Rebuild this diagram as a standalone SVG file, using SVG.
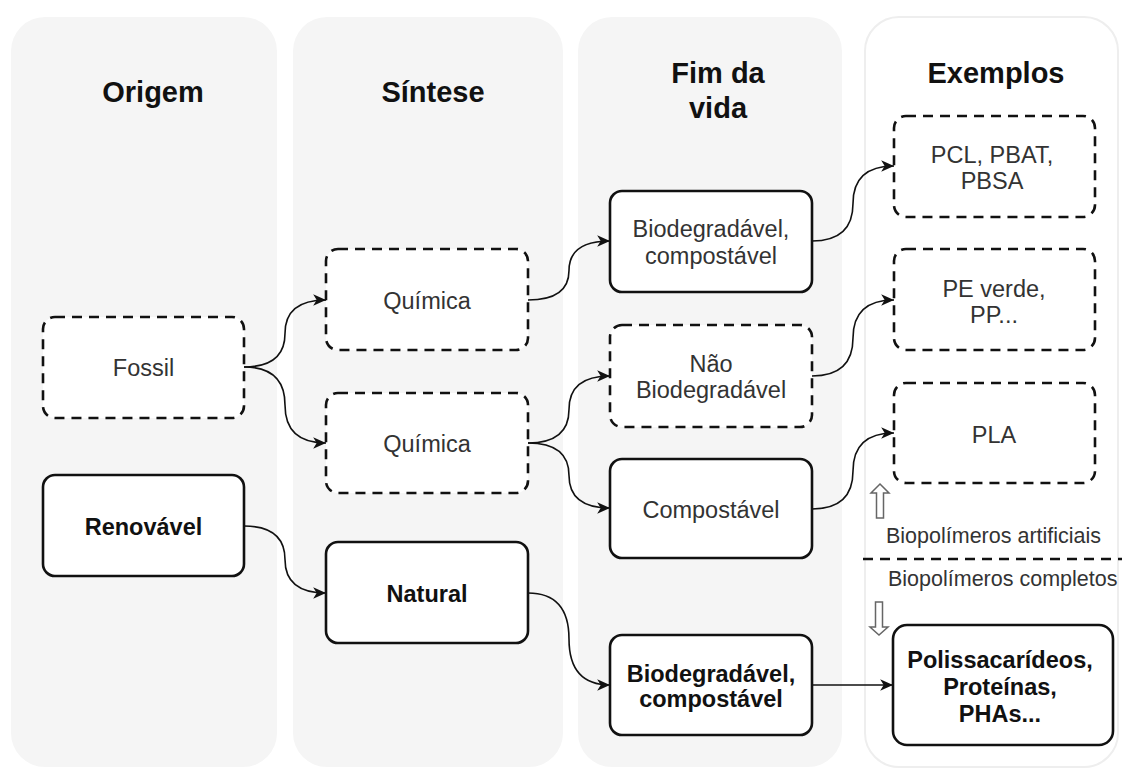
<svg xmlns="http://www.w3.org/2000/svg" width="1122" height="769" viewBox="0 0 1122 769">
<defs>
<style>
.panel{fill:#f5f5f5;stroke:none}
.panelw{fill:#ffffff;stroke:#eeeeee;stroke-width:2}
.box{fill:#ffffff;stroke:#111;stroke-width:2.6}
.dash{stroke-dasharray:10 7}
.hdr{font-family:"Liberation Sans",Arial,sans-serif;font-weight:bold;font-size:29px;fill:#111;text-anchor:middle}
.t{font-family:"Liberation Sans",Arial,sans-serif;font-size:23.5px;fill:#333;text-anchor:middle}
.b{font-family:"Liberation Sans",Arial,sans-serif;font-size:23.5px;font-weight:bold;fill:#111;text-anchor:middle}
.s{font-family:"Liberation Sans",Arial,sans-serif;font-size:21.5px;fill:#333}
.edge{fill:none;stroke:#111;stroke-width:1.6}
.hollow{fill:#fff;stroke:#666;stroke-width:1.5}
</style>
<marker id="arr" markerUnits="userSpaceOnUse" markerWidth="14" markerHeight="12" refX="11" refY="5" orient="auto" viewBox="0 0 12 10">
<path d="M0,0 L11,5 L0,10 L3,5 Z" fill="#111"/>
</marker>
</defs>
<rect width="1122" height="769" fill="#ffffff"/>

<g id="panels">
<rect class="panel" x="11" y="17" width="266" height="750" rx="34"/>
<rect class="panel" x="293" y="17" width="270" height="750" rx="34"/>
<rect class="panel" x="578" y="17" width="264" height="750" rx="34"/>
<rect class="panelw" x="865" y="17" width="253" height="750" rx="34"/>
</g>

<g id="headers">
<text class="hdr" x="153" y="102">Origem</text>
<text class="hdr" x="433" y="102">Síntese</text>
<text class="hdr" x="718" y="83">Fim da</text>
<text class="hdr" x="718" y="118">vida</text>
<text class="hdr" x="996" y="83">Exemplos</text>
</g>

<g id="connectors">
<path class="edge" marker-end="url(#arr)" d="M244,367 Q285,367 285,333.5 T326,300"/>
<path class="edge" marker-end="url(#arr)" d="M244,367 Q285,367 285,405 T326,443"/>
<path class="edge" marker-end="url(#arr)" d="M244,526 Q285,526 285,559.5 T326,593"/>
<path class="edge" marker-end="url(#arr)" d="M528,300 Q569,300 569,270.5 T610,241"/>
<path class="edge" marker-end="url(#arr)" d="M528,443 Q569,443 569,409.5 T610,376"/>
<path class="edge" marker-end="url(#arr)" d="M528,443 Q569,443 569,475.5 T610,508"/>
<path class="edge" marker-end="url(#arr)" d="M528,593 Q569,593 569,639 T610,685"/>
<path class="edge" marker-end="url(#arr)" d="M812,241 Q853,241 853,203.5 T894,166"/>
<path class="edge" marker-end="url(#arr)" d="M812,376 Q853,376 853,338 T894,300"/>
<path class="edge" marker-end="url(#arr)" d="M812,509 Q853,509 853,471 T894,433"/>
<path class="edge" marker-end="url(#arr)" d="M812,685 L893,685"/>
</g>

<g id="fossil">
<rect class="box dash" x="43" y="317" width="201" height="101" rx="12"/>
<text class="t" x="143.5" y="376">Fossil</text>
</g>
<g id="renovavel">
<rect class="box" x="43" y="475" width="201" height="101" rx="12"/>
<text class="b" x="143.5" y="535">Renovável</text>
</g>
<g id="quimica1">
<rect class="box dash" x="326" y="249" width="202" height="101" rx="12"/>
<text class="t" x="427" y="309">Química</text>
</g>
<g id="quimica2">
<rect class="box dash" x="326" y="393" width="202" height="100" rx="12"/>
<text class="t" x="427" y="452">Química</text>
</g>
<g id="natural">
<rect class="box" x="326" y="542" width="202" height="101" rx="12"/>
<text class="b" x="427" y="602">Natural</text>
</g>
<g id="biocomp1">
<rect class="box" x="610" y="191" width="202" height="101" rx="12"/>
<text class="t" x="711" y="237">Biodegradável,</text>
<text class="t" x="711" y="264">compostável</text>
</g>
<g id="naobio">
<rect class="box dash" x="610" y="325" width="202" height="102" rx="12"/>
<text class="t" x="711" y="372">Não</text>
<text class="t" x="711" y="398">Biodegradável</text>
</g>
<g id="compostavel">
<rect class="box" x="610" y="459" width="202" height="99" rx="12"/>
<text class="t" x="711" y="518">Compostável</text>
</g>
<g id="biocomp2">
<rect class="box" x="610" y="635" width="202" height="100" rx="12"/>
<text class="b" x="711" y="682">Biodegradável,</text>
<text class="b" x="711" y="707">compostável</text>
</g>
<g id="pcl">
<rect class="box dash" x="894" y="116" width="201" height="101" rx="12"/>
<text class="t" x="992" y="163">PCL, PBAT,</text>
<text class="t" x="992" y="189">PBSA</text>
</g>
<g id="pe">
<rect class="box dash" x="894" y="249" width="201" height="101" rx="12"/>
<text class="t" x="994" y="297">PE verde,</text>
<text class="t" x="994" y="323">PP...</text>
</g>
<g id="pla">
<rect class="box dash" x="894" y="383" width="201" height="100" rx="12"/>
<text class="t" x="994" y="443">PLA</text>
</g>
<g id="polissacarideos">
<rect class="box" x="893" y="625" width="220" height="120" rx="14"/>
<text class="b" x="1000" y="668">Polissacarídeos,</text>
<text class="b" x="1000" y="695">Proteínas,</text>
<text class="b" x="1000" y="722">PHAs...</text>
</g>

<g id="separator">
<path class="hollow" d="M880,484 L889,493 L883.5,493 L883.5,518 L876.5,518 L876.5,493 L871,493 Z"/>
<text class="s" x="886" y="543">Biopolímeros artificiais</text>
<line x1="863" y1="559" x2="1122" y2="559" stroke="#111" stroke-width="2.6" stroke-dasharray="10 7"/>
<text class="s" x="888" y="586">Biopolímeros completos</text>
<path class="hollow" d="M875.5,602 L882.5,602 L882.5,627 L888,627 L879,635 L870,627 L875.5,627 Z"/>
</g>
</svg>
